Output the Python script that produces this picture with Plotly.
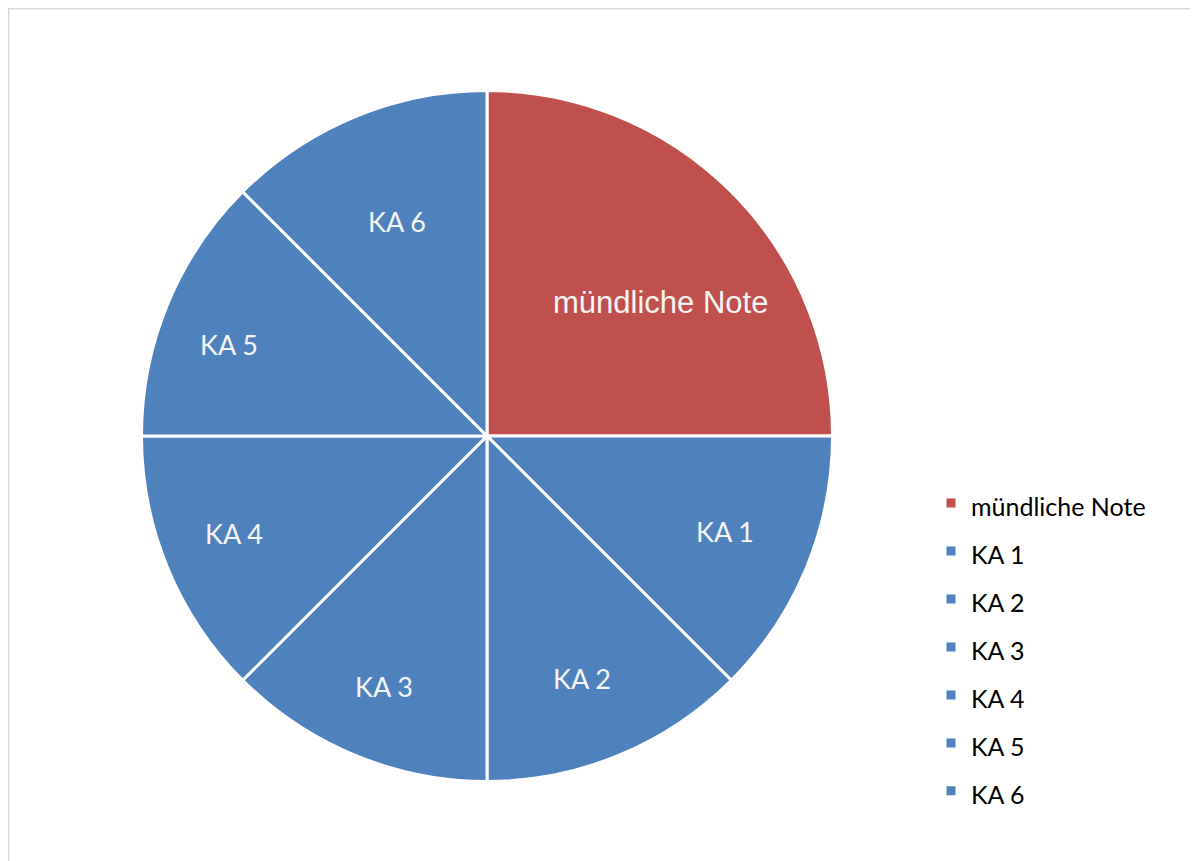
import math
import plotly.graph_objects as go

# ---- data ----
labels = ["mündliche Note", "KA 1", "KA 2", "KA 3", "KA 4", "KA 5", "KA 6"]
values = [25, 12.5, 12.5, 12.5, 12.5, 12.5, 12.5]
colors = ["#C0504D", "#4F81BD", "#4F81BD", "#4F81BD", "#4F81BD", "#4F81BD", "#4F81BD"]

# ---- style / layout (figure sits 8px inside the page) ----
W, H = 1190, 853
CX, CY, R = 479, 428, 345.5          # pie centre and radius in figure pixels
label_rfrac = [0.632, 0.742, 0.753, 0.783, 0.785, 0.793, 0.672]
label_dtheta = [7.4, -0.7, 1.0, -0.1, 1.4, -2.9, -0.3]   # degrees
label_font = ["Liberation Sans", "Lato", "Lato", "Lato", "Lato", "Lato", "Lato"]
label_size = [31, 27, 27, 27, 27, 27, 27]

legend_labels = ['<span style="font-size:25px">%s</span>' % l for l in labels]

fig = go.Figure()
fig.add_trace(go.Pie(
    labels=legend_labels,
    values=values,
    sort=False,
    direction="clockwise",
    rotation=0,
    textinfo="none",
    hoverinfo="skip",
    marker=dict(colors=colors, line=dict(color="white", width=3)),
    domain=dict(x=[(CX - R) / W, (CX + R) / W],
                y=[(H - CY - R) / H, (H - CY + R) / H]),
))

# slice labels, placed along each slice's mid angle
total = sum(values)
cum = 0.0
annotations = []
for lab, v, rf, dt, fnt, sz in zip(labels, values, label_rfrac, label_dtheta,
                                    label_font, label_size):
    theta = 2 * math.pi * (cum + v / 2) / total + math.radians(dt)
    cum += v
    px = CX + rf * R * math.sin(theta)
    py = CY - rf * R * math.cos(theta)
    annotations.append(dict(
        x=px / W, y=1 - py / H, xref="paper", yref="paper",
        text=lab, showarrow=False,
        font=dict(family=fnt, size=sz, color="#F4F4F4"),
        xanchor="center", yanchor="middle",
    ))

fig.update_layout(
    width=W, height=H,
    margin=dict(l=0, r=0, t=0, b=0),
    paper_bgcolor="white",
    plot_bgcolor="white",
    showlegend=True,
    legend=dict(
        x=923 / W, y=1 - 466 / H, xanchor="left", yanchor="top",
        font=dict(family="Lato", size=34.6, color="#000000"),
        bgcolor="rgba(0,0,0,0)",
        traceorder="normal",
    ),
    annotations=annotations,
    shapes=[dict(
        type="rect", xref="paper", yref="paper",
        x0=0, x1=1.02, y0=-0.02, y1=1,
        line=dict(color="#D9D9D9", width=3),
        fillcolor="rgba(0,0,0,0)", layer="below",
    )],
)

fig.write_html("out.html")
